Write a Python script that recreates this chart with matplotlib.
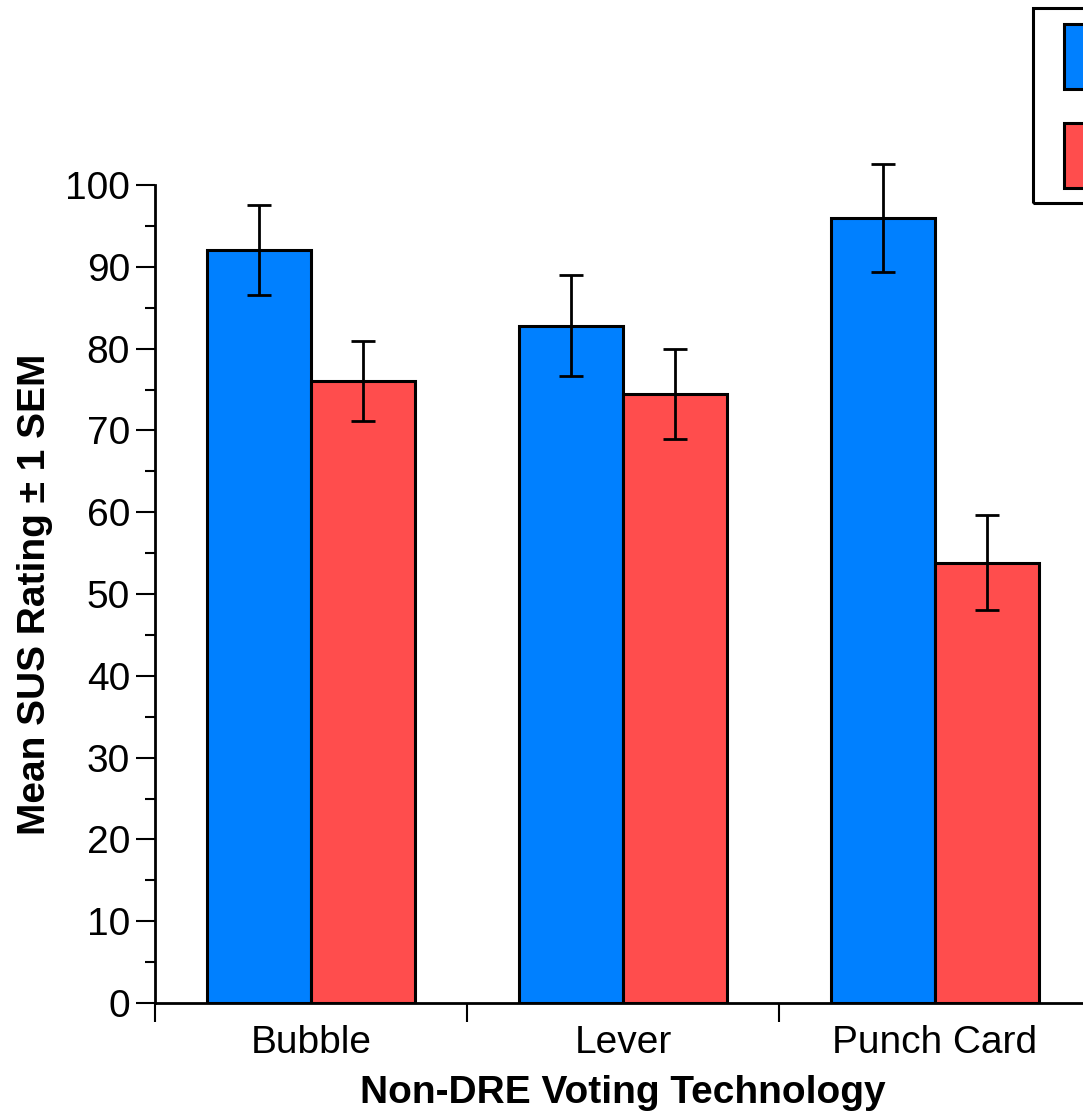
import matplotlib
matplotlib.use('Agg')
import matplotlib.pyplot as plt
from matplotlib.patches import Rectangle
import numpy as np

technologies = ["Bubble", "Lever", "Punch Card"]
series = ["DRE", "Non-DRE"]
dre_mean = [92.0, 82.8, 96.0]
dre_sem = [5.5, 6.2, 6.6]
nondre_mean = [76.0, 74.5, 53.8]
nondre_sem = [4.9, 5.5, 5.8]

blue = "#0080FF"
red = "#FF4D4D"

plt.rcParams['font.family'] = ['Liberation Sans', 'DejaVu Sans']

fig = plt.figure(figsize=(10.83, 11.14), dpi=100)
ax = fig.add_axes([155 / 1083, 111 / 1114, 936 / 1083, 0.771])

x = np.arange(len(technologies))
w = 1 / 3
err_kw = dict(ecolor="black", elinewidth=2, capsize=8.3, capthick=2)
ax.bar(x - w / 2, dre_mean, w, yerr=dre_sem, color=blue, edgecolor="black",
       linewidth=2.2, error_kw=err_kw, label=series[0], zorder=2)
ax.bar(x + w / 2, nondre_mean, w, yerr=nondre_sem, color=red, edgecolor="black",
       linewidth=2.2, error_kw=err_kw, label=series[1], zorder=2)

ax.set_xlim(-0.5, 2.5)
ax.set_ylim(0, 105)

for s in ["top", "right"]:
    ax.spines[s].set_visible(False)
ax.spines["left"].set_bounds(0, 100)
ax.spines["left"].set_linewidth(2)
ax.spines["bottom"].set_linewidth(2)

ax.set_yticks(np.arange(0, 101, 10))
ax.set_yticks(np.arange(5, 100, 10), minor=True)
ax.tick_params(axis="y", which="major", length=14, width=1.5, labelsize=28, pad=4)
ax.tick_params(axis="y", which="minor", length=7, width=1.5)

ax.set_xticks(x)
ax.set_xticklabels(technologies)
ax.set_xticks([-0.5, 0.5, 1.5, 2.5], minor=True)
ax.tick_params(axis="x", which="major", length=0, labelsize=28, pad=16)
ax.tick_params(axis="x", which="minor", length=14, width=1.5)

ax.set_ylabel("Mean SUS Rating \u00b1 1 SEM", fontsize=28, fontweight="bold")
ax.yaxis.set_label_coords((53 - 155) / 936, 50 / 105)
ax.set_xlabel("Non-DRE Voting Technology", fontsize=28, fontweight="bold", labelpad=10)

# legend: patches placed without frame, frame drawn separately
leg = ax.legend(loc="upper left", bbox_to_anchor=(1064 / 1083, 1 - 24 / 1114),
                bbox_transform=fig.transFigure, fontsize=28, frameon=False,
                handleheight=2.2, handlelength=2.0, labelspacing=0.87,
                borderpad=0, borderaxespad=0)
for h in leg.legend_handles:
    h.set_linewidth(2.2)
fig.add_artist(Rectangle((1033 / 1083, 1 - 203 / 1114), 0.2, 195 / 1114,
                         transform=fig.transFigure, fill=False,
                         edgecolor="black", linewidth=2.2))

fig.savefig("out.png", dpi=100)
